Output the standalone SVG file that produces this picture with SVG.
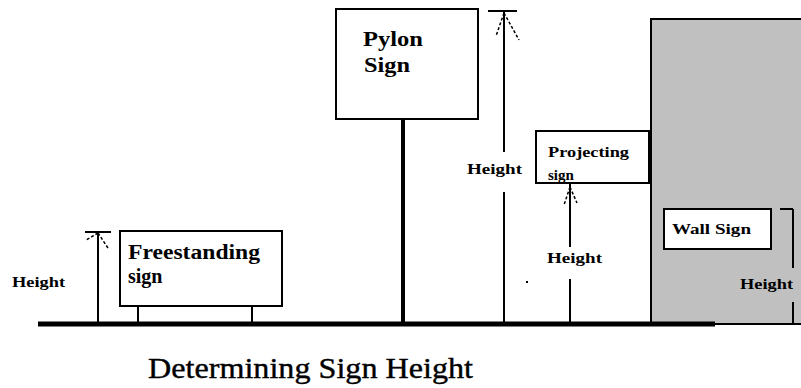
<svg xmlns="http://www.w3.org/2000/svg" width="801" height="388" viewBox="0 0 801 388" font-family="Liberation Serif, DejaVu Serif, serif">
<style>
.box{fill:#fff;stroke:#000;stroke-width:2}
.ln{stroke:#000;stroke-width:2;fill:none}
.ah{stroke:#000;stroke-width:1.5;stroke-dasharray:3,2;fill:none}
.lbl{font-weight:bold;fill:#000}
.sm{font-size:15px}
.big{font-size:20px}
.title{font-size:30px;fill:#000;stroke:#000;stroke-width:0.4}
</style>
<rect width="801" height="388" fill="#fff"/>
<g id="building">
<rect x="651" y="19" width="152" height="305" fill="#c0c0c0" stroke="#000" stroke-width="2"/>
</g>
<g id="ground">
<line x1="38" y1="324" x2="715" y2="324" stroke="#000" stroke-width="5"/>
</g>
<g id="freestanding">
<rect class="box" x="120" y="231" width="162" height="75"/>
<line class="ln" x1="138" y1="306" x2="138" y2="324"/>
<line class="ln" x1="252" y1="306" x2="252" y2="324"/>
<text class="lbl big" font-family="Liberation Serif, serif" x="128" y="259" textLength="132" lengthAdjust="spacingAndGlyphs">Freestanding</text>
<text class="lbl big" font-family="Liberation Serif, serif" x="128" y="283">sign</text>
</g>
<g id="pylon">
<rect class="box" x="336" y="9" width="142" height="110"/>
<line x1="403" y1="119" x2="403" y2="324" stroke="#000" stroke-width="4"/>
<text class="lbl big" font-family="Liberation Serif, serif" x="363" y="46" textLength="60" lengthAdjust="spacingAndGlyphs">Pylon</text>
<text class="lbl big" font-family="Liberation Serif, serif" x="364" y="72" textLength="46" lengthAdjust="spacingAndGlyphs">Sign</text>
</g>
<g id="projecting">
<rect class="box" x="536" y="131" width="113" height="52"/>
<text class="lbl sm" font-family="Liberation Serif, serif" x="548" y="157" textLength="81" lengthAdjust="spacingAndGlyphs">Projecting</text>
<text class="lbl sm" font-family="Liberation Serif, serif" x="548" y="180">sign</text>
</g>
<g id="wallsign">
<rect class="box" x="664" y="209" width="107" height="40"/>
<text class="lbl sm" font-family="Liberation Serif, serif" x="672" y="234" textLength="79" lengthAdjust="spacingAndGlyphs">Wall Sign</text>
</g>
<g id="connectors">
<line class="ln" x1="98" y1="232" x2="98" y2="324"/>
<line class="ln" x1="85" y1="232" x2="111" y2="232"/>
<line class="ah" x1="98" y1="233" x2="86" y2="240"/>
<line class="ah" x1="98" y1="233" x2="108" y2="248"/>
<line class="ln" x1="504" y1="12" x2="504" y2="152"/>
<line class="ln" x1="504" y1="192" x2="504" y2="324"/>
<line class="ln" x1="488" y1="11" x2="517" y2="11"/>
<line class="ah" x1="504" y1="13" x2="496" y2="36"/>
<line class="ah" x1="504" y1="13" x2="519" y2="40"/>
<line class="ln" x1="570" y1="184" x2="570" y2="247"/>
<line class="ln" x1="570" y1="279" x2="570" y2="324"/>
<line class="ah" x1="570" y1="187" x2="564" y2="205"/>
<line class="ah" x1="570" y1="187" x2="577" y2="203"/>
<line class="ln" x1="780" y1="209" x2="793" y2="209"/>
<line class="ln" x1="793" y1="209" x2="793" y2="268"/>
<line class="ln" x1="793" y1="302" x2="793" y2="324"/>
</g>
<g id="labels">
<text class="lbl sm" font-family="Liberation Serif, serif" x="12" y="287" textLength="53" lengthAdjust="spacingAndGlyphs">Height</text>
<text class="lbl sm" font-family="Liberation Serif, serif" x="467" y="174" textLength="55" lengthAdjust="spacingAndGlyphs">Height</text>
<text class="lbl sm" font-family="Liberation Serif, serif" x="547" y="263" textLength="55" lengthAdjust="spacingAndGlyphs">Height</text>
<text class="lbl sm" font-family="Liberation Serif, serif" x="740" y="289" textLength="53" lengthAdjust="spacingAndGlyphs">Height</text>
<rect x="526" y="281" width="2" height="2" fill="#000"/>
<text class="title" font-family="Liberation Serif, serif" x="148" y="378" textLength="325" lengthAdjust="spacingAndGlyphs">Determining Sign Height</text>
</g>
</svg>
